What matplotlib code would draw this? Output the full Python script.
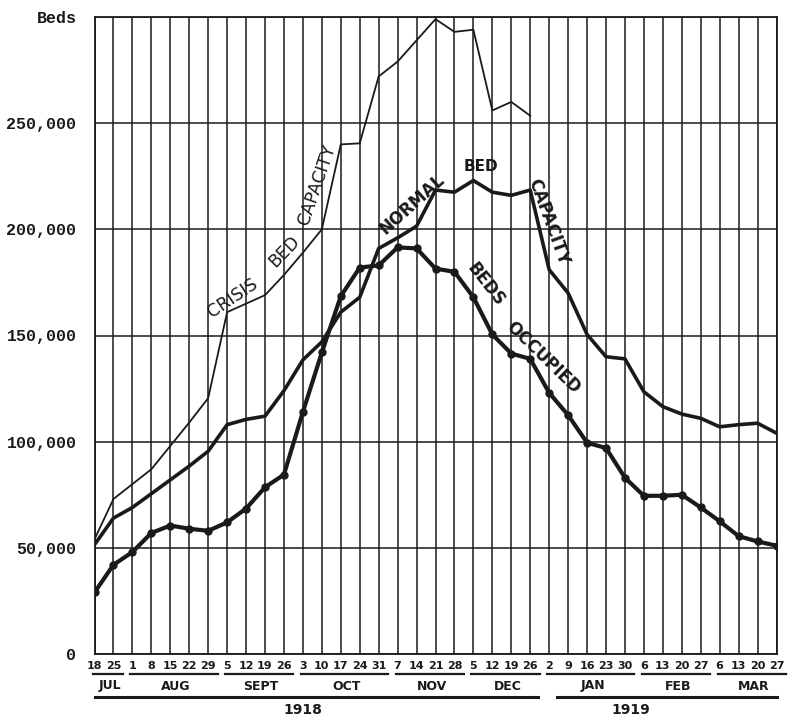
import matplotlib
matplotlib.use("Agg")
import matplotlib.pyplot as plt
from matplotlib.transforms import blended_transform_factory

# ---------------- data ----------------
date_labels = ["18", "25",
               "1", "8", "15", "22", "29",
               "5", "12", "19", "26",
               "3", "10", "17", "24", "31",
               "7", "14", "21", "28",
               "5", "12", "19", "26",
               "2", "9", "16", "23", "30",
               "6", "13", "20", "27",
               "6", "13", "20", "27"]
months = ["JUL", "AUG", "SEPT", "OCT", "NOV", "DEC", "JAN", "FEB", "MAR"]
month_counts = [2, 5, 4, 5, 4, 4, 5, 4, 4]
years = ["1918", "1919"]

crisis_capacity = [54000, 73000, 80000, 87000, 98000, 109000, 120500,
                   161000, 165000, 169000, 178500, 189000, 200000,
                   240000, 240500, 272000, 279000, 289000, 299000,
                   293000, 294000, 256000, 260000, 253500]

normal_capacity = [51500, 64000, 69000, 75500, 82000, 88500, 95500,
                   108000, 110500, 112000, 124000, 138500, 147000,
                   161000, 168000, 191000, 196000, 201500, 218500,
                   217500, 223000, 217500, 216000, 218500, 181000,
                   170000, 150500, 140000, 139000, 123500, 116500,
                   113000, 111000, 107000, 108000, 108700, 104000]

beds_occupied = [29000, 42000, 48000, 57000, 60500, 59000, 58000,
                 62000, 68500, 78500, 84500, 114000, 142000,
                 168500, 182000, 183000, 191500, 191000, 181500,
                 180000, 168000, 150500, 141500, 139000, 123000,
                 112500, 99500, 97000, 83000, 74500, 74500,
                 75000, 69000, 62500, 55500, 53000, 51000]

y_ticks = [0, 50000, 100000, 150000, 200000, 250000, 300000]
y_tick_labels = ["0", "50,000", "100,000", "150,000", "200,000", "250,000", "Beds"]

# ---------------- figure ----------------
W, H = 789, 718
fig = plt.figure(figsize=(W / 100, H / 100), dpi=100)
left_px, right_px, top_px, bottom_px = 94.5, 776.5, 17, 654
ax = fig.add_axes([left_px / W, 1 - bottom_px / H,
                   (right_px - left_px) / W, (bottom_px - top_px) / H])

ink = "#1a1a1a"
n = len(date_labels)
x = list(range(n))

ax.set_xlim(0, n - 1)
ax.set_ylim(0, 300000)

# grid
for i in x:
    ax.axvline(i, color=ink, lw=1.1, zorder=1)
for v in y_ticks:
    ax.axhline(v, color=ink, lw=1.1, zorder=1)
for s in ax.spines.values():
    s.set_color(ink)
    s.set_linewidth(1.3)

# series
ax.plot(x[:len(crisis_capacity)], crisis_capacity, color=ink, lw=1.3,
        zorder=3, solid_joinstyle="round")
ax.plot(x, normal_capacity, color=ink, lw=2.6, zorder=3, solid_joinstyle="round")
ax.plot(x, beds_occupied, color=ink, lw=3.0, marker="o", ms=5,
        zorder=4, solid_joinstyle="round")

# ticks
ax.set_xticks(x)
ax.set_xticklabels(date_labels, fontsize=8, family="DejaVu Sans", fontweight="bold")
ax.tick_params(axis="x", length=0, pad=5, colors=ink)
ax.set_yticks(y_ticks)
ax.set_yticklabels(y_tick_labels, fontsize=12, family="Liberation Mono",
                   fontweight="bold")
ax.tick_params(axis="y", length=0, pad=13, colors=ink)

# month / year annotations below the axis
tr = blended_transform_factory(ax.transData, ax.transAxes)
ax_h = bottom_px - top_px
def fy(px_below):
    return -px_below / ax_h

start = 0
for name, cnt in zip(months, month_counts):
    first, last = start, start + cnt - 1
    ax.plot([first - 0.1, last + 0.5], [fy(20), fy(20)], color=ink, lw=1.6,
            transform=tr, clip_on=False)
    ax.text((first + last) / 2 + 0.3, fy(32), name, transform=tr, ha="center",
            va="center", fontsize=9, fontweight="bold", color=ink)
    start += cnt

year_spans = [(0, 23.4), (24.4, 36)]
year_text_x = [11.0, 28.3]
for yname, (a, b), tx in zip(years, year_spans, year_text_x):
    ax.plot([a, b], [fy(43), fy(43)], color=ink, lw=2.2, transform=tr, clip_on=False)
    ax.text(tx, fy(55.5), yname, transform=tr, ha="center", va="center",
            fontsize=10, fontweight="bold", color=ink)

# in-chart labels
lab = dict(ha="center", va="center", rotation_mode="anchor", color=ink,
           family="DejaVu Sans", zorder=5)
ax.text(7.3, 167500, "CRISIS", rotation=34, fontsize=12.5, **lab)
ax.text(10.0, 189500, "BED", rotation=46, fontsize=12.5, **lab)
ax.text(11.75, 221000, "CAPACITY", rotation=71, fontsize=12.5, **lab)
ax.text(16.77, 212000, "NORMAL", rotation=42, fontsize=12, fontweight="bold", **lab)
ax.text(20.4, 229800, "BED", rotation=0, fontsize=11, fontweight="bold", **lab)
ax.text(23.95, 203500, "CAPACITY", rotation=-70, fontsize=12, fontweight="bold", **lab)
ax.text(20.65, 174000, "BEDS", rotation=-52, fontsize=12, fontweight="bold", **lab)
ax.text(23.7, 139500, "OCCUPIED", rotation=-44, fontsize=12, fontweight="bold", **lab)

fig.savefig("out.png", dpi=100, facecolor="white")
